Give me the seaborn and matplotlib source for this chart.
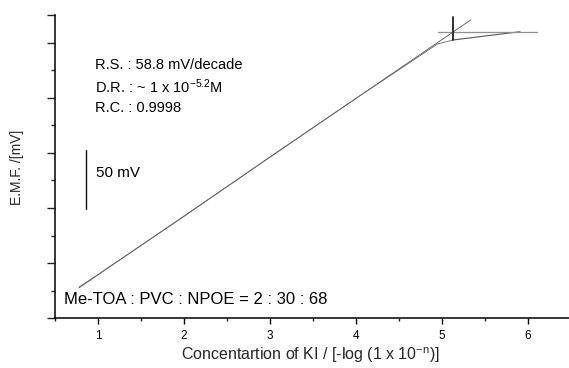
import matplotlib
matplotlib.use("Agg")
import matplotlib.pyplot as plt
from matplotlib.ticker import FixedLocator
import seaborn as sns
import numpy as np

# ---- data (EMF in mV, relative) ----
data_x = [0.78, 1.0, 2.0, 3.0, 4.0, 4.95, 5.13]
data_y = [31.0, 43.5, 101.5, 161.0, 219.5, 274.0, 278.0]
fit_x = [0.78, 5.34]
fit_y = [30.2, 298.3]
tail_x = [5.13, 5.91]
tail_y = [278.0, 286.3]
plateau_x = [4.96, 6.11]
plateau_y = [286.3, 286.3]
marker_x = [5.13, 5.13]
marker_y = [278.0, 301.0]
bar_x = [0.86, 0.86]
bar_y = [109.0, 168.0]

x_ticks = [1, 2, 3, 4, 5, 6]
x_tick_labels = ["1", "2", "3", "4", "5", "6"]
x_minor = [0.5, 1.5, 2.5, 3.5, 4.5, 5.5, 6.5]
y_major = [0, 55, 110, 165, 220, 275, 303]
y_minor = [27.5, 82.5, 137.5, 192.5, 247.5]

sns.set_theme(style="ticks")
plt.rcParams["font.family"] = ["Liberation Sans", "DejaVu Sans"]
plt.rcParams["mathtext.fontset"] = "custom"
plt.rcParams["mathtext.rm"] = "Liberation Sans"
plt.rcParams["mathtext.it"] = "Liberation Sans:italic"

W, H = 569, 368
fig = plt.figure(figsize=(W/100, H/100), dpi=100)
ax = fig.add_axes([55/W, 50/H, 1 - 55/W, (318 - 15)/H])

sns.lineplot(x=fit_x, y=fit_y, ax=ax, color="#555555", lw=0.6, sort=False, estimator=None)
sns.lineplot(x=data_x, y=data_y, ax=ax, color="#666666", lw=0.6, sort=False, estimator=None)
sns.lineplot(x=tail_x, y=tail_y, ax=ax, color="#555555", lw=0.8, sort=False, estimator=None)
sns.lineplot(x=plateau_x, y=plateau_y, ax=ax, color="#8f8f8f", lw=0.9, sort=False, estimator=None)
sns.lineplot(x=marker_x, y=marker_y, ax=ax, color="#222222", lw=1.3, sort=False, estimator=None)
sns.lineplot(x=bar_x, y=bar_y, ax=ax, color="#111111", lw=1.0, sort=False, estimator=None)

ax.set_xlim(0.5, 6.48)
ax.set_ylim(0, 303)

ax.xaxis.set_major_locator(FixedLocator(x_ticks))
ax.set_xticklabels(x_tick_labels)
ax.xaxis.set_minor_locator(FixedLocator(x_minor))
ax.yaxis.set_major_locator(FixedLocator(y_major))
ax.yaxis.set_minor_locator(FixedLocator(y_minor))
ax.set_yticklabels([])

ax.tick_params(axis="x", which="major", direction="out", length=4.5, width=1.0,
               labelsize=8.5, pad=4, colors="black")
ax.tick_params(axis="x", which="minor", direction="out", length=2.5, width=1.0)
ax.tick_params(axis="y", which="major", direction="out", length=6, width=1.0)
ax.tick_params(axis="y", which="minor", direction="out", length=3, width=1.0)

sns.despine(ax=ax)
for s in ["left", "bottom"]:
    ax.spines[s].set_linewidth(1.1)
    ax.spines[s].set_color("black")

txt_kw = dict(color="black", transform=ax.transData)
ax.text(0.97, 253, "R.S. : 58.8 mV/decade", va="center", ha="left", fontsize=10.5, **txt_kw)
ax.text(0.97, 231, r"D.R. : ~ 1 x 10$^{\mathrm{-5.2}}$M", va="center", ha="left", fontsize=10.5, **txt_kw)
ax.text(0.97, 210, "R.C. : 0.9998", va="center", ha="left", fontsize=10.5, **txt_kw)
ax.text(0.98, 145, "50 mV", va="center", ha="left", fontsize=11, **txt_kw)
ax.text(0.605, 18, "Me-TOA : PVC : NPOE = 2 : 30 : 68", va="center", ha="left", fontsize=12, **txt_kw)

fig.text(310/W, 1 - 355/H, r"Concentartion of KI / [-log (1 x 10$^{\mathrm{-n}}$)]",
         fontsize=11.5, ha="center", va="center")
fig.text(17/W, 1 - 167/H, "E.M.F. /[mV]", fontsize=10, rotation=90, ha="center", va="center")

fig.savefig("out.png", dpi=100)
